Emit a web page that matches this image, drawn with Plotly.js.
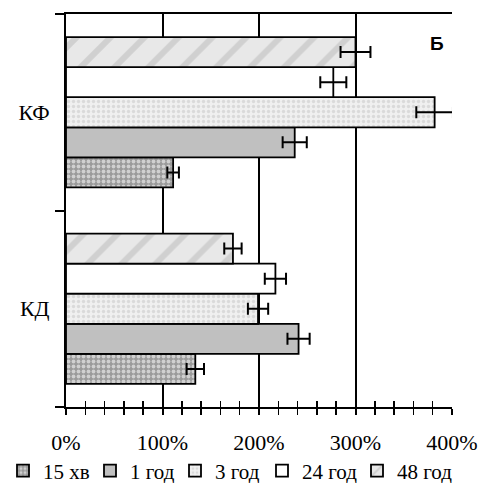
<!DOCTYPE html>
<html>
<head>
<meta charset="utf-8">
<script src="https://cdn.plot.ly/plotly-3.0.1.min.js"></script>
<style>html,body{margin:0;padding:0;background:#fff;}#chart{width:482px;height:483px;}</style>
</head>
<body>
<div id="chart"></div>
<script>
// Categories (bottom to top) and series
const categories = ['КД', 'КФ'];
const seriesNames = ['15 хв', '1 год', '3 год', '24 год', '48 год'];
// values as fractions (1 = 100%), order matches categories
const v15min = [1.34, 1.11];
const v1h    = [2.41, 2.37];
const v3h    = [1.99, 3.82];
const v24h   = [2.17, 2.77];
const v48h   = [1.73, 3.00];
// error bars (± fraction)
const e15min = [0.09, 0.06];
const e1h    = [0.115, 0.125];
const e3h    = [0.105, 0.19];
const e24h   = [0.11, 0.135];
const e48h   = [0.09, 0.155];
const xTickVals = [0, 1, 2, 3, 4];
const xTickText = ['0%', '100%', '200%', '300%', '400%'];

const values = [v15min, v1h, v3h, v24h, v48h];
const errors = [e15min, e1h, e3h, e24h, e48h];
const styles = [
  {color: '#a8a8a8', pattern: {shape: '.', fgcolor: '#d0d0d0', bgcolor: '#9a9a9a', size: 5, solidity: 0.45, fillmode: 'replace'}},
  {color: '#c0c0c0'},
  {color: '#eeeeee', pattern: {shape: '.', fgcolor: '#dadada', bgcolor: '#f0f0f0', size: 5, solidity: 0.35, fillmode: 'replace'}},
  {color: '#ffffff'},
  {color: '#e2e2e2', pattern: {shape: '/', fgcolor: '#d0d0d0', bgcolor: '#e8e8e8', size: 24, solidity: 0.25, fillmode: 'replace'}}
];
const legendIds = ['legend', 'legend2', 'legend3', 'legend4', 'legend5'];
const legendX = [3, 90, 175, 262, 357];   // left edge of each legend entry, px

const traces = seriesNames.map((name, i) => {
  const m = {color: styles[i].color, line: {color: '#000', width: 1.8}};
  if (styles[i].pattern) m.pattern = styles[i].pattern;
  return {
    type: 'bar', orientation: 'h', name: name, legend: legendIds[i],
    y: categories, x: values[i],
    marker: m,
    error_x: {type: 'data', array: errors[i], visible: true, color: '#000', thickness: 2, width: 6}
  };
});
// invisible trace to activate the overlaying axis for cross ticks
traces.push({type: 'scatter', x: [0], y: [categories[0]], xaxis: 'x2', mode: 'markers', marker: {opacity: 0}, showlegend: false, hoverinfo: 'skip'});

const serif = 'Liberation Serif';
const font = {family: serif, size: 20, color: '#000'};
const layout = {
  width: 482, height: 483,
  margin: {l: 66, r: 30, t: 14, b: 76},
  paper_bgcolor: '#fff', plot_bgcolor: '#fff',
  font: font,
  barmode: 'group', bargap: 0.235, bargroupgap: 0,
  showlegend: true,
  xaxis: {
    range: [0, 4], tickvals: xTickVals, ticktext: xTickText,
    tickfont: {family: serif, size: 22, color: '#000'},
    showgrid: true, gridcolor: '#000', gridwidth: 2, zeroline: false,
    showline: true, linecolor: '#000', linewidth: 2, mirror: true,
    ticks: 'outside', ticklen: 6, tickwidth: 2, tickcolor: '#000',
    minor: {dtick: 0.2, ticks: 'outside', ticklen: 6, tickwidth: 1.5, tickcolor: '#000', showgrid: false},
    ticklabelstandoff: 9, fixedrange: true
  },
  xaxis2: {
    overlaying: 'x', side: 'bottom', anchor: 'y', range: [0, 4], tickvals: xTickVals,
    showticklabels: false, showgrid: false, zeroline: false, showline: false,
    ticks: 'inside', ticklen: 6, tickwidth: 2, tickcolor: '#000',
    minor: {dtick: 0.2, ticks: 'inside', ticklen: 6, tickwidth: 1.5, tickcolor: '#000', showgrid: false}
  },
  yaxis: {
    type: 'category', categoryorder: 'array', categoryarray: categories, range: [-0.5, 1.5],
    tickfont: {family: serif, size: 22, color: '#000'},
    tickson: 'boundaries', ticks: 'outside', ticklen: 9, tickwidth: 2, tickcolor: '#000',
    showgrid: false, zeroline: false, showline: true, linecolor: '#000', linewidth: 2,
    ticklabelstandoff: 10, fixedrange: true
  },
  annotations: [{text: '<b>Б</b>', xref: 'paper', yref: 'paper', x: 0.96, y: 0.925,
                 xanchor: 'center', yanchor: 'middle', showarrow: false,
                 font: {family: 'Liberation Sans', size: 19, color: '#000'}}]
};
legendIds.forEach((id, i) => {
  layout[id] = {orientation: 'h', xref: 'container', yref: 'container', x: legendX[i] / 482, xanchor: 'left',
                y: 0.025, yanchor: 'middle', bgcolor: 'rgba(0,0,0,0)', borderwidth: 0,
                font: {family: serif, size: 21, color: '#000'}, itemwidth: 30};
});
Plotly.newPlot('chart', traces, layout, {displayModeBar: false, staticPlot: true});
</script>
</body>
</html>
